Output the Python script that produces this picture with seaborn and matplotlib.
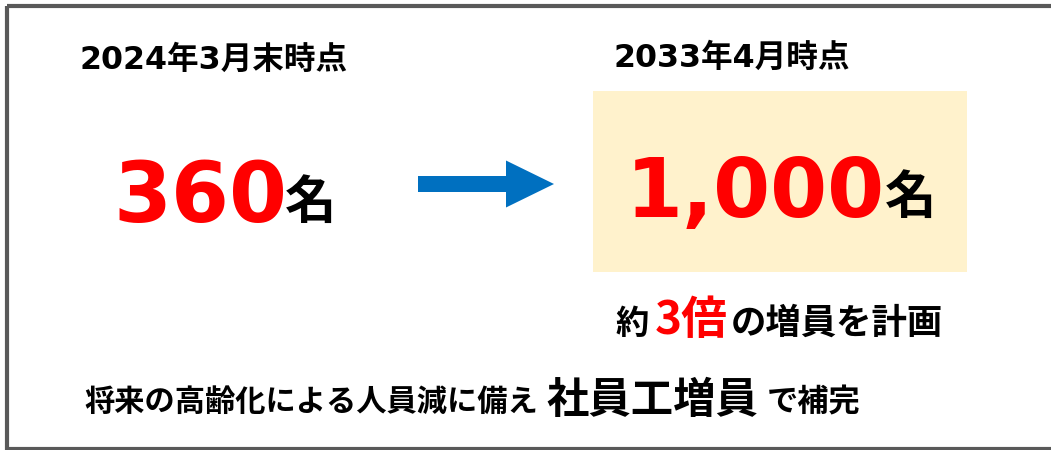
import matplotlib
matplotlib.use("Agg")
import matplotlib.pyplot as plt
import seaborn as sns
from matplotlib.patches import Rectangle, FancyArrow

# data
periods = ["2024年3月末時点", "2033年4月時点"]
headcount = [360, 1000]
unit = "名"
growth_note = ["約", "3倍", "の増員を計画"]
bottom_note = ["将来の高齢化による人員減に備え", "社員工増員", "で補完"]

RED = "#FF0000"
BLUE = "#0070C0"
LATIN = ["DejaVu Sans", "Noto Sans CJK JP"]
CJK = ["Noto Sans CJK JP", "DejaVu Sans"]

sns.set_theme(style="white")
plt.rcParams["font.family"] = CJK

fig = plt.figure(figsize=(10.51, 4.5), dpi=100)
ax = fig.add_axes([0, 0, 1, 1])
ax.set_xlim(0, 1051)
ax.set_ylim(450, 0)
ax.axis("off")

# outer frame (right edge runs off the image)
ax.add_patch(Rectangle((7, 6), 1100, 443, fill=False, edgecolor="#595959", lw=3))

# highlight box behind the target number
ax.add_patch(Rectangle((593, 91), 374, 181, facecolor="#FFF2CC", edgecolor="none"))

# arrow
ax.add_patch(FancyArrow(418, 184, 136, 0, width=16, head_width=47, head_length=48,
                        length_includes_head=True, color=BLUE, lw=0))

# period labels
ax.text(80, 69, periods[0], fontsize=22.8, fontweight="bold", family=LATIN, color="black")
ax.text(613, 67, periods[1], fontsize=22.8, fontweight="bold", family=LATIN, color="black")

# headcounts
ax.text(113, 222, f"{headcount[0]:,}", fontsize=60, fontweight="bold", family=LATIN, color=RED)
ax.text(285, 218, unit, fontsize=37, fontweight="bold", family=CJK, color="black")
ax.text(626, 217, f"{headcount[1]:,}", fontsize=59, fontweight="bold", family=LATIN, color=RED)
ax.text(885, 213, unit, fontsize=37, fontweight="bold", family=CJK, color="black")

# growth note
ax.text(616, 334, growth_note[0], fontsize=24, fontweight="bold", family=CJK, color="black")
ax.text(655, 334, growth_note[1], fontsize=33, fontweight="bold", family=CJK, color=RED)
ax.text(731, 334, growth_note[2], fontsize=25.5, fontweight="bold", family=CJK, color="black")

# bottom note
ax.text(84, 411, bottom_note[0], fontsize=21.8, fontweight="bold", family=CJK, color="black")
ax.text(546, 413, bottom_note[1], fontsize=30.5, fontweight="bold", family=CJK, color="black")
ax.text(767, 411, bottom_note[2], fontsize=22.5, fontweight="bold", family=CJK, color="black")

fig.savefig("out.png", dpi=100)
